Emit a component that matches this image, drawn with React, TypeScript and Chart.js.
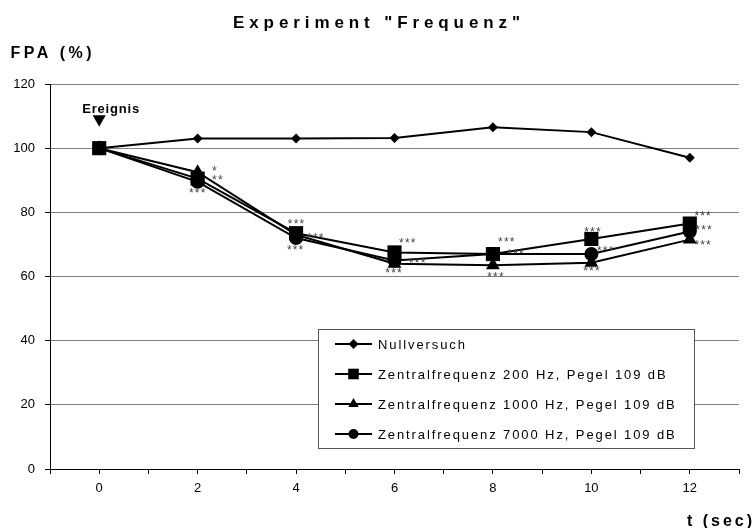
import React, { useEffect, useRef } from "react";
import { Chart, registerables } from "chart.js";
import { drawPoint } from "chart.js/helpers";

Chart.register(...registerables);

const FONT = "'Liberation Sans', Arial, Helvetica, sans-serif";

const chartTitle = 'Experiment "Frequenz"';
const yAxisTitle = "FPA (%)";
const xAxisTitle = "t (sec)";
const eventLabel = "Ereignis";

const times = [0, 2, 4, 6, 8, 10, 12];
const xTickLabels = ["0", "2", "4", "6", "8", "10", "12"];

const seriesNames = [
  "Nullversuch",
  "Zentralfrequenz 200 Hz, Pegel 109 dB",
  "Zentralfrequenz 1000 Hz, Pegel 109 dB",
  "Zentralfrequenz 7000 Hz, Pegel 109 dB",
];
const nullversuch = [100, 103, 103, 103.2, 106.5, 105, 97];
const freq200 = [100, 90.5, 73.5, 67.5, 67, 71.7, 76.5];
const freq1000 = [100, 92.5, 73, 64, 63.5, 64.3, 71.5];
const freq7000 = [100, 89.5, 72, 65, 67, 67, 74];

const pointStyles = ["rectRot", "rect", "triangle", "circle"];
const pointRadii = [5, 10, 8, 7];
const legendRadii = [5, 7.5, 6, 5];

// significance markers (data coordinates of text centre)
const sigText = ["*", "**", "***", "***", "***", "***", "***", "***", "***", "***", "***", "***", "***", "***", "***", "***", "***", "***"];
const sigX = [2.34, 2.4, 1.99, 4.0, 4.39, 3.98, 6.26, 6.46, 5.98, 8.27, 8.46, 8.05, 10.02, 10.28, 10.0, 12.26, 12.28, 12.26];
const sigY = [93.8, 91.0, 87.1, 77.3, 72.8, 69.3, 71.4, 65.2, 62.1, 71.7, 68.1, 60.9, 74.8, 68.9, 62.8, 79.8, 75.4, 70.8];

const allSeries = [nullversuch, freq200, freq1000, freq7000];

function drawSpaced(ctx: CanvasRenderingContext2D, text: string, x: number, y: number, size: number, bold: boolean, spacing: number, align: "left" | "center" | "right", color: string) {
  ctx.font = `${bold ? "bold " : ""}${size}px ${FONT}`;
  (ctx as any).letterSpacing = "0px";
  const base = ctx.measureText(text).width;
  const w = base + spacing * (text.length - 1);
  let sx = x;
  if (align === "center") sx = x - w / 2;
  if (align === "right") sx = x - w;
  (ctx as any).letterSpacing = spacing + "px";
  ctx.fillStyle = color;
  ctx.textAlign = "left";
  ctx.textBaseline = "alphabetic";
  ctx.fillText(text, sx, y);
  (ctx as any).letterSpacing = "0px";
}

const decorPlugin = {
  id: "decor",
  afterDraw(chart: any) {
    const ctx: CanvasRenderingContext2D = chart.ctx;
    const xs = chart.scales.x;
    const ys = chart.scales.y;
    const ca = chart.chartArea;
    ctx.save();

    // titles
    drawSpaced(ctx, chartTitle, chart.width / 2, 28, 17, true, 4.9, "center", "#000");
    drawSpaced(ctx, yAxisTitle, 10.5, 58, 16, true, 3.5, "left", "#000");
    drawSpaced(ctx, xAxisTitle, 752, 526, 16, true, 3, "right", "#000");

    // event marker
    const ex = xs.getPixelForValue(times[0]);
    const ey = ys.getPixelForValue(nullversuch[0]);
    drawSpaced(ctx, eventLabel, ex - 17, ey - 35, 13, true, 0.8, "left", "#000");
    ctx.fillStyle = "#000";
    ctx.beginPath();
    ctx.moveTo(ex - 6.5, ey - 33);
    ctx.lineTo(ex + 6.5, ey - 33);
    ctx.lineTo(ex, ey - 21.5);
    ctx.closePath();
    ctx.fill();

    // significance stars
    for (let i = 0; i < sigText.length; i++) {
      const px = xs.getPixelForValue(sigX[i]);
      const py = ys.getPixelForValue(sigY[i]);
      drawSpaced(ctx, sigText[i], px, py + 7, 12, false, 1.2, "center", "#444");
    }

    // legend box
    const lx = ca.left + 268;
    const ly = ca.top + 245;
    const lw = 376;
    const lh = 119;
    ctx.fillStyle = "#fff";
    ctx.fillRect(lx, ly, lw, lh);
    ctx.strokeStyle = "#555";
    ctx.lineWidth = 1;
    ctx.strokeRect(lx + 0.5, ly + 0.5, lw, lh);
    for (let i = 0; i < seriesNames.length; i++) {
      const ry = ly + 15 + i * 30;
      ctx.strokeStyle = "#000";
      ctx.lineWidth = 2;
      ctx.beginPath();
      ctx.moveTo(lx + 17, ry);
      ctx.lineTo(lx + 54, ry);
      ctx.stroke();
      ctx.fillStyle = "#000";
      drawPoint(ctx, { pointStyle: pointStyles[i] as any, radius: legendRadii[i], rotation: 0, borderWidth: 0 } as any, lx + 35.5, ry);
      drawSpaced(ctx, seriesNames[i], lx + 60, ry + 4.7, 13, false, 1.9, "left", "#000");
    }
    ctx.restore();
  },
};

export default function App() {
  const ref = useRef<HTMLCanvasElement | null>(null);
  useEffect(() => {
    if (!ref.current) return;
    Chart.defaults.font.family = FONT;
    const chart = new Chart(ref.current, {
      type: "line",
      data: {
        datasets: allSeries.map((vals, i) => ({
          label: seriesNames[i],
          data: vals.map((v, j) => ({ x: times[j], y: v })),
          borderColor: "#000",
          backgroundColor: "#000",
          borderWidth: 2,
          pointStyle: pointStyles[i] as any,
          pointRadius: pointRadii[i],
          pointBackgroundColor: "#000",
          pointBorderColor: "#000",
          pointBorderWidth: 0,
          tension: 0,
          fill: false,
        })),
      },
      options: {
        responsive: false,
        animation: false,
        devicePixelRatio: 1,
        layout: { padding: { left: 10, right: 14, top: 84, bottom: 29 } },
        plugins: {
          legend: { display: false },
          title: { display: false },
          tooltip: { enabled: false },
        },
        scales: {
          x: {
            type: "linear",
            min: -1,
            max: 13,
            ticks: {
              stepSize: 1,
              autoSkip: false,
              maxRotation: 0,
              color: "#000",
              padding: 7,
              font: { size: 13 },
              callback: (v: any) => {
                const k = times.indexOf(Number(v));
                return k >= 0 ? xTickLabels[k] : "";
              },
            },
            grid: { drawOnChartArea: false, drawTicks: true, tickLength: 5, tickColor: "#000" },
            border: { color: "#000", width: 1 },
            afterFit: (s: any) => {
              s.height = 30;
            },
          },
          y: {
            min: 0,
            max: 120,
            ticks: { stepSize: 20, color: "#000", padding: 10, font: { size: 13 } },
            grid: { color: "#808080", lineWidth: 1, tickLength: 5, tickColor: "#000" },
            border: { color: "#000", width: 1 },
            afterFit: (s: any) => {
              s.width = 40;
            },
          },
        },
      },
      plugins: [decorPlugin],
    });
    return () => chart.destroy();
  }, []);
  return (
    <div style={{ position: "absolute", left: 0, top: 0, width: 753, height: 528, background: "#fff" }}>
      <canvas ref={ref} width={753} height={528} style={{ display: "block" }} />
    </div>
  );
}
